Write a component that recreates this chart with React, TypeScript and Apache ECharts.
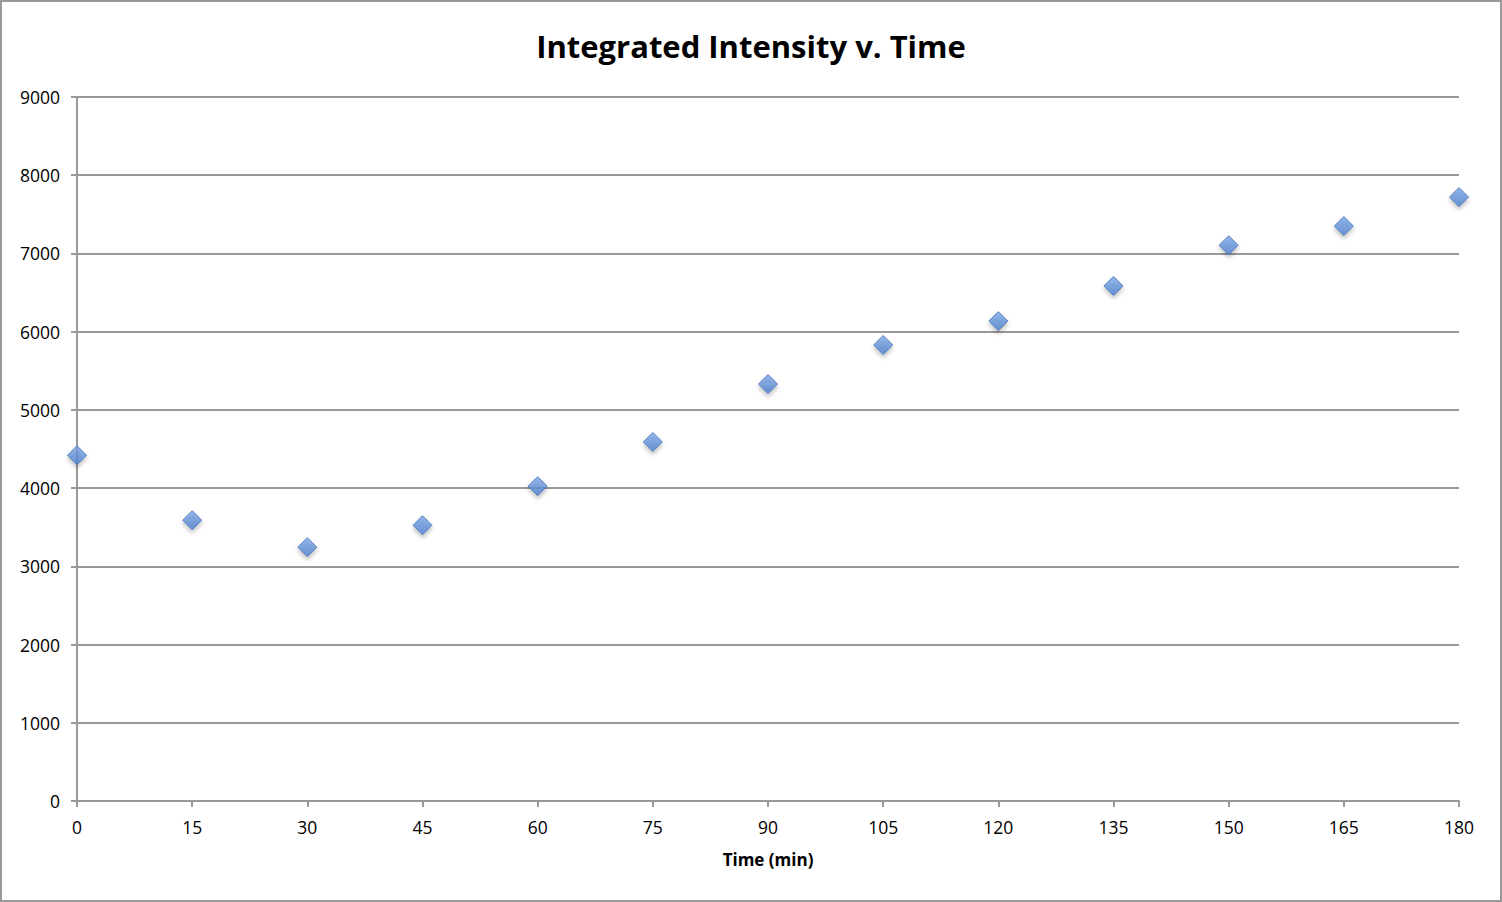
import React, { useEffect, useRef } from "react";
import * as echarts from "echarts";

const times = [0, 15, 30, 45, 60, 75, 90, 105, 120, 135, 150, 165, 180];
const intensity = [4420, 3590, 3245, 3525, 4025, 4590, 5330, 5830, 6135, 6585, 7105, 7350, 7720];
const titleText = "Integrated Intensity v. Time";
const xAxisName = "Time (min)";

export default function App() {
  const ref = useRef<HTMLDivElement>(null);
  useEffect(() => {
    if (!ref.current) return;
    const chart = echarts.init(ref.current, null, { renderer: "svg" });
    const font = "'Open Sans', 'Liberation Sans', sans-serif";
    chart.setOption({
      animation: false,
      backgroundColor: "#ffffff",
      title: {
        text: titleText,
        left: "center",
        top: 23,
        textStyle: { fontFamily: font, fontSize: 31, fontWeight: "bold", color: "#000" },
      },
      grid: { left: 75, right: 41, top: 95, bottom: 99, containLabel: false },
      xAxis: {
        type: "value",
        min: 0,
        max: 180,
        interval: 15,
        name: xAxisName,
        nameLocation: "middle",
        nameGap: 50,
        nameTextStyle: { fontFamily: font, fontSize: 17, fontWeight: "bold", color: "#000" },
        axisLine: { lineStyle: { color: "#999", width: 2 } },
        axisTick: { show: true, length: 6, lineStyle: { color: "#999", width: 2 } },
        axisLabel: { fontFamily: font, fontSize: 17.5, color: "#000", margin: 17 },
        splitLine: { show: false },
      },
      yAxis: {
        type: "value",
        min: 0,
        max: 9000,
        interval: 1000,
        axisLine: { show: true, lineStyle: { color: "#999", width: 2 } },
        axisTick: { show: true, length: 6, lineStyle: { color: "#999", width: 2 } },
        axisLabel: {
          fontFamily: font,
          fontSize: 17.5,
          color: "#000",
          margin: 17,
          formatter: (v: number) => String(v),
        },
        splitLine: { show: true, lineStyle: { color: "#999", width: 2 } },
      },
      series: [
        {
          type: "scatter",
          symbol: "diamond",
          symbolSize: [19, 19],
          data: times.map((t, i) => [t, intensity[i]]),
          itemStyle: {
            color: {
              type: "linear",
              x: 0, y: 0, x2: 0, y2: 1,
              colorStops: [
                { offset: 0, color: "#7ba6e6" },
                { offset: 1, color: "#4f81cf" },
              ],
            },
            borderColor: "#3e6fb8",
            borderWidth: 1,
            shadowBlur: 4,
            shadowOffsetY: 3,
            shadowColor: "rgba(0,0,0,0.3)",
          },
        },
      ],
    });
    return () => chart.dispose();
  }, []);
  return (
    <div
      style={{
        position: "absolute",
        left: 0,
        top: 0,
        width: 1502,
        height: 902,
        border: "2px solid #999",
        boxSizing: "border-box",
        background: "#fff",
      }}
    >
      <div ref={ref} style={{ width: 1498, height: 898 }} />
    </div>
  );
}
